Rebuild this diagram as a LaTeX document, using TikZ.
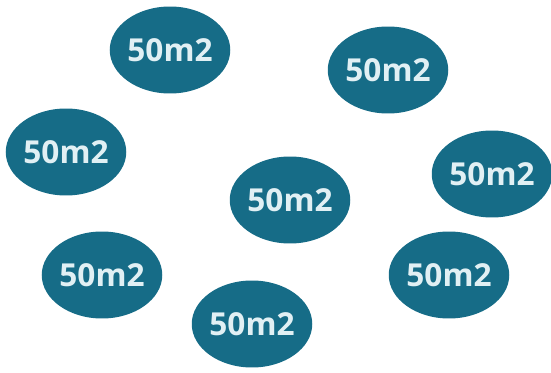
\documentclass[tikz,border=0pt]{standalone}
\usepackage{fontspec}
\setmainfont{Open Sans}
\definecolor{lotteal}{RGB}{22,108,135}
\definecolor{lottext}{RGB}{225,240,244}

\tikzset{
  lot/.style={ellipse, fill=lotteal, minimum width=2.34cm, minimum height=1.74cm,
    inner sep=0pt, text=lottext, font=\fontsize{18}{18}\selectfont\bfseries}
}
\usetikzlibrary{shapes.geometric}

\begin{document}
\begin{tikzpicture}[x=0.02cm, y=-0.02cm]

\useasboundingbox (0, 0) rectangle (551, 372);

\node[lot] (top)      at (170, 50)  {50m2};
\node[lot] (topright) at (388, 70)  {50m2};
\node[lot] (left)     at (66, 152)  {50m2};
\node[lot] (right)    at (492, 174) {50m2};
\node[lot] (middle)   at (290, 200) {50m2};
\node[lot] (botleft)  at (102, 275) {50m2};
\node[lot] (botright) at (449, 275) {50m2};
\node[lot] (bottom)   at (252, 324) {50m2};

\end{tikzpicture}
\end{document}
